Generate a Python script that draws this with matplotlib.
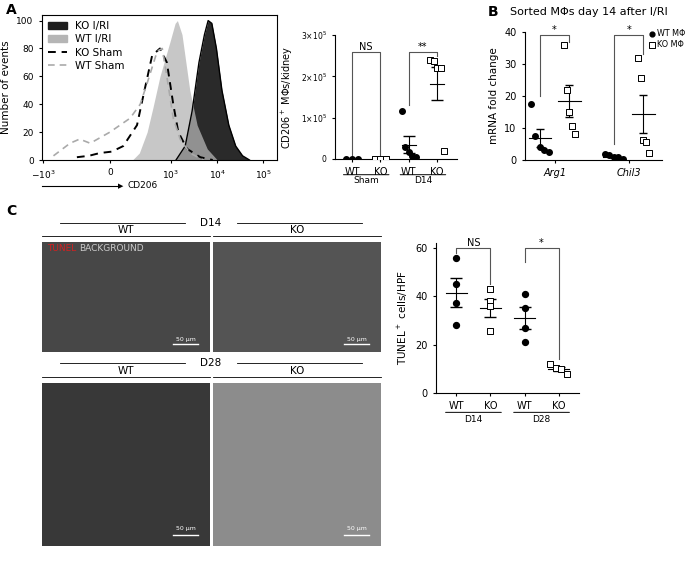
import numpy as np
import matplotlib.pyplot as plt
from matplotlib.patches import Rectangle

W, H = 700, 564

# ---- panel A histogram (x in display units: -1e3 -> 0, 0 -> 1.46, 1e3 -> 2.79, 1e4 -> 3.8, 1e5 -> 4.8)
ko_iri_x = [2.9, 3.1, 3.25, 3.4, 3.52, 3.6, 3.68, 3.78, 3.9, 4.05, 4.2, 4.35, 4.5]
ko_iri_y = [0, 10, 35, 70, 90, 100, 98, 80, 50, 25, 10, 3, 0]
wt_iri_x = [1.95, 2.1, 2.27, 2.4, 2.55, 2.77, 2.88, 2.93, 3.03, 3.2, 3.36, 3.58, 3.8]
wt_iri_y = [0, 5, 20, 38, 60, 85, 98, 100, 90, 50, 25, 8, 0]
ko_sham_x = [0.74, 1.0, 1.24, 1.5, 1.75, 2.05, 2.18, 2.38, 2.55, 2.7, 2.84, 2.95, 3.14, 3.43, 3.7]
ko_sham_y = [2, 3, 5, 6, 10, 25, 45, 75, 80, 70, 40, 20, 8, 2, 0]
wt_sham_x = [0.23, 0.59, 0.8, 1.03, 1.46, 1.9, 2.12, 2.27, 2.49, 2.6, 2.7, 2.84, 2.99, 3.2, 3.5]
wt_sham_y = [3, 12, 15, 12, 20, 30, 40, 55, 78, 80, 60, 30, 15, 5, 0]
hist_ticks = [0, 1.46, 2.79, 3.8, 4.8]
hist_ticklabels = ['$-10^3$', '0', '$10^3$', '$10^4$', '$10^5$']

# ---- panel A scatter (x10^5)
a_groups = ['WT', 'KO', 'WT', 'KO']
a_vals = [[0, 0, 0], [0, 0, 0], [1.15, 0.3, 0.18, 0.08, 0.05], [2.4, 2.37, 2.2, 2.2, 0.2]]
a_mean = [0, 0, 0.35, 1.82]
a_sem = [0, 0, 0.2, 0.4]

# ---- panel B
b_wt = [[17.5, 7.5, 4, 3, 2.5], [1.8, 1.5, 1.0, 0.8, 0.3]]
b_ko = [[36, 22, 15, 10.5, 8], [32, 25.5, 6.3, 5.5, 2.3]]
b_wt_mean = [7, 1.0]
b_wt_sem = [2.8, 0.3]
b_ko_mean = [18.3, 14.3]
b_ko_sem = [5, 6]
b_genes = ['Arg1', 'Chil3']

# ---- panel C scatter
c_vals = [[56, 45, 37, 28], [43, 38, 36, 25.5], [41, 35, 27, 21], [12, 10.5, 10, 8]]
c_mean = [41.5, 35, 31, 10]
c_sem = [6, 3.7, 4.5, 0.8]

fig = plt.figure(figsize=(7, 5.64), dpi=100)
plt.rcParams['font.family'] = ['DejaVu Sans']


def ax_px(l, t, r, b):
    return fig.add_axes([l / W, 1 - b / H, (r - l) / W, (b - t) / H])


def style(ax):
    for s in ['top', 'right']:
        ax.spines[s].set_visible(False)
    ax.tick_params(labelsize=7, length=2.5)


def label(x, y, s):
    fig.text(x / W, 1 - y / H, s, fontsize=10, fontweight='bold', va='center')


def bracket(ax, x1, x2, y1, ytop, y2, txt):
    ax.plot([x1, x1, x2, x2], [y1, ytop, ytop, y2], color='#555555', lw=0.8)
    ax.text((x1 + x2) / 2, ytop, txt, ha='center', va='bottom', fontsize=7)


# ===== A histogram
ax = ax_px(42, 15, 277, 160)
ax.fill_between(ko_iri_x, ko_iri_y, color='#1e1e1e', alpha=0.95, lw=0)
ax.plot(ko_iri_x, ko_iri_y, color='black', lw=1)
ax.fill_between(wt_iri_x, wt_iri_y, color='#b5b5b5', alpha=0.75, lw=0)
ax.plot(ko_sham_x, ko_sham_y, color='black', lw=1.4, ls=(0, (4, 3)))
ax.plot(wt_sham_x, wt_sham_y, color='#aaaaaa', lw=1.2, ls=(0, (4, 3)))
ax.set_xlim(-0.02, 5.1)
ax.set_ylim(0, 104)
ax.set_xticks(hist_ticks)
ax.set_xticklabels(hist_ticklabels)
ax.set_yticks([0, 20, 40, 60, 80, 100])
ax.tick_params(labelsize=6.5, length=2.5)
ax.set_ylabel('Number of events', fontsize=7.5)
hs = [Rectangle((0, 0), 1, 1, color='#1e1e1e'), Rectangle((0, 0), 1, 1, color='#b5b5b5'),
      plt.Line2D([], [], color='black', ls=(0, (4, 3)), lw=1.4),
      plt.Line2D([], [], color='#aaaaaa', ls=(0, (4, 3)), lw=1.2)]
ax.legend(hs, ['KO I/RI', 'WT I/RI', 'KO Sham', 'WT Sham'], loc='upper left', fontsize=7.5,
          frameon=False, handlelength=1.8, borderaxespad=0.2, labelspacing=0.3)
fig.add_artist(plt.Line2D([42 / W, 120 / W], [1 - 186 / H, 1 - 186 / H], color='black', lw=0.8))
fig.text(118 / W, 1 - 186 / H, '\u25b6', fontsize=5, va='center', ha='left')
fig.text(128 / W, 1 - 186 / H, 'CD206', fontsize=6.5, va='center')
label(6, 10, 'A')

# ===== A scatter
ax = ax_px(335, 35, 457, 159)
style(ax)
a_x = [1, 2, 3, 4]
offs3 = [-0.2, 0, 0.2]
offs5 = [-0.25, -0.12, 0, 0.12, 0.25]
for i, vals in enumerate(a_vals):
    offs = offs3 if len(vals) == 3 else offs5
    xs = [a_x[i] + o for o in offs]
    if a_groups[i] == 'WT':
        ax.scatter(xs, vals, s=16, color='black', zorder=3)
    else:
        ax.scatter(xs, vals, s=18, marker='s', facecolor='white', edgecolor='black', lw=0.7, zorder=3)
    if a_mean[i] > 0:
        ax.plot([a_x[i] - 0.25, a_x[i] + 0.25], [a_mean[i]] * 2, color='black', lw=0.8)
        ax.errorbar(a_x[i], a_mean[i], yerr=a_sem[i], color='black', capsize=4, lw=0.8)
bracket(ax, 1, 2, 0.05, 2.6, 0.05, 'NS')
bracket(ax, 3, 4, 1.3, 2.6, 2.5, '**')
ax.set_xlim(0.4, 4.7)
ax.set_ylim(0, 3)
ax.set_yticks([0, 1, 2, 3])
ax.set_yticklabels(['0', '1\u00d710$^5$', '2\u00d710$^5$', '3\u00d710$^5$'], fontsize=5.5)
ax.set_xticks(a_x)
ax.set_xticklabels(a_groups)
ax.set_ylabel('CD206$^+$ M\u03a6s/kidney', fontsize=7)
for x0, x1, t in [(0.6, 2.4, 'Sham'), (2.6, 4.4, 'D14')]:
    ax.annotate('', xy=(x0, -0.38), xytext=(x1, -0.38), xycoords=('data', 'data'),
                arrowprops=dict(arrowstyle='-', color='black', lw=0.7), annotation_clip=False)
    ax.text((x0 + x1) / 2, -0.42, t, ha='center', va='top', fontsize=6.5, clip_on=False)

# ===== B
ax = ax_px(525, 32, 662, 160)
style(ax)
b_x = [1, 3]
for i in range(2):
    xw = b_x[i] - 0.4
    xk = b_x[i] + 0.4
    ax.scatter([xw + o for o in offs5], b_wt[i], s=16, color='black', zorder=3)
    ax.scatter([xk + o * 0.6 for o in offs5], b_ko[i], s=18, marker='s', facecolor='white',
               edgecolor='black', lw=0.7, zorder=3)
    for xc, m, e in [(xw, b_wt_mean[i], b_wt_sem[i]), (xk, b_ko_mean[i], b_ko_sem[i])]:
        ax.plot([xc - 0.3, xc + 0.3], [m, m], color='black', lw=0.8)
        ax.errorbar(xc, m, yerr=e, color='black', capsize=3, lw=0.8)
bracket(ax, b_x[0] - 0.4, b_x[0] + 0.4, 20, 39, 37, '*')
bracket(ax, b_x[1] - 0.4, b_x[1] + 0.4, 5, 39, 33, '*')
ax.set_xlim(0.2, 3.9)
ax.set_ylim(0, 40)
ax.set_yticks([0, 10, 20, 30, 40])
ax.set_xticks(b_x)
ax.set_xticklabels(b_genes, style='italic')
ax.set_ylabel('mRNA fold change', fontsize=7.5)
ax.scatter([], [], s=12, color='black', label='WT M\u03a6')
ax.scatter([], [], s=14, marker='s', facecolor='white', edgecolor='black', lw=0.7, label='KO M\u03a6')
ax.legend(loc='upper left', bbox_to_anchor=(0.9, 1.02), fontsize=5.8, frameon=False,
          handletextpad=0.05, borderaxespad=0, labelspacing=0.2, borderpad=0, handlelength=1.0)
fig.text(510 / W, 1 - 12 / H, 'Sorted M\u03a6s day 14 after I/RI', fontsize=8, va='center')
label(488, 12, 'B')

# ===== C images
imgs = [(42, 242, 210, 352, 0.28), (213, 242, 381, 352, 0.33),
        (42, 383, 210, 546, 0.22), (213, 383, 381, 546, 0.55)]
for l, t, r, b, g in imgs:
    iax = ax_px(l, t, r, b)
    iax.imshow(np.full((10, 10), g), cmap='gray', vmin=0, vmax=1, aspect='auto')
    iax.set_xticks([])
    iax.set_yticks([])
    for s in iax.spines.values():
        s.set_visible(False)
    iax.plot([0.78, 0.93], [0.07, 0.07], color='white', lw=1, transform=iax.transAxes)
    iax.text(0.855, 0.09, '50 \u00b5m', color='white', fontsize=4.5, ha='center', va='bottom',
             transform=iax.transAxes)
fig.text(47 / W, 1 - 249 / H, 'TUNEL', color='#d42020', fontsize=6.5, va='center')
fig.text(79 / W, 1 - 249 / H, 'BACKGROUND', color='#cccccc', fontsize=6.5, va='center')


def header(y, l, r, txt):
    fig.add_artist(plt.Line2D([l / W, r / W], [1 - y / H, 1 - y / H], color='black', lw=0.6))
    fig.text((l + r) / 2 / W, 1 - (y - 6) / H, txt, ha='center', va='center', fontsize=7.5)


header(236, 42, 210, 'WT')
header(236, 213, 381, 'KO')
fig.text(211 / W, 1 - 223 / H, 'D14', ha='center', va='center', fontsize=7.5)
fig.add_artist(plt.Line2D([60 / W, 185 / W], [1 - 223 / H, 1 - 223 / H], color='black', lw=0.6))
fig.add_artist(plt.Line2D([237 / W, 362 / W], [1 - 223 / H, 1 - 223 / H], color='black', lw=0.6))
header(377, 42, 210, 'WT')
header(377, 213, 381, 'KO')
fig.text(211 / W, 1 - 363 / H, 'D28', ha='center', va='center', fontsize=7.5)
fig.add_artist(plt.Line2D([60 / W, 185 / W], [1 - 363 / H, 1 - 363 / H], color='black', lw=0.6))
fig.add_artist(plt.Line2D([237 / W, 362 / W], [1 - 363 / H, 1 - 363 / H], color='black', lw=0.6))
label(6, 211, 'C')

# ===== C scatter
ax = ax_px(436, 243, 579, 393)
style(ax)
c_x = [1, 2, 3, 4]
c_groups = ['WT', 'KO', 'WT', 'KO']
offs4 = [0, 0, 0, 0]
kooffs = [-0.25, -0.08, 0.08, 0.25]
for i, vals in enumerate(c_vals):
    if c_groups[i] == 'WT':
        ax.scatter([c_x[i]] * 4, vals, s=18, color='black', zorder=3)
    else:
        offs = offs4 if i == 1 else kooffs
        ax.scatter([c_x[i] + o for o in offs], vals, s=20, marker='s', facecolor='white',
                   edgecolor='black', lw=0.7, zorder=3)
    ax.plot([c_x[i] - 0.3, c_x[i] + 0.3], [c_mean[i]] * 2, color='black', lw=0.8)
    ax.errorbar(c_x[i], c_mean[i], yerr=c_sem[i], color='black', capsize=4, lw=0.8)
bracket(ax, 1, 2, 58, 60, 45, 'NS')
bracket(ax, 3, 4, 54, 60, 14, '*')
ax.set_xlim(0.4, 4.6)
ax.set_ylim(0, 62)
ax.set_yticks([0, 20, 40, 60])
ax.set_xticks(c_x)
ax.set_xticklabels(c_groups)
ax.set_ylabel('TUNEL$^+$ cells/HPF', fontsize=7.5)
for x0, x1, t in [(0.6, 2.4, 'D14'), (2.6, 4.4, 'D28')]:
    ax.annotate('', xy=(x0, -8), xytext=(x1, -8),
                arrowprops=dict(arrowstyle='-', color='black', lw=0.7), annotation_clip=False)
    ax.text((x0 + x1) / 2, -9, t, ha='center', va='top', fontsize=6.5, clip_on=False)

fig.savefig('out.png', dpi=100)
